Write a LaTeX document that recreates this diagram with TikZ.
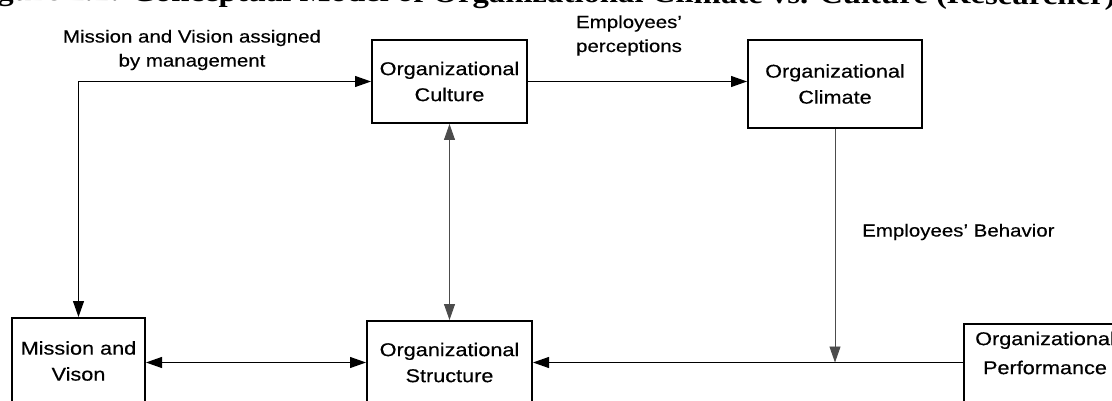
\documentclass[tikz,border=0pt]{standalone}
\usepackage{fontspec}
\setmainfont{Liberation Serif}
\newfontfamily\diagfont[FakeStretch=1.17,FakeBold=0.4]{Liberation Sans}
\newfontfamily\titlefont[FakeStretch=1.17]{Liberation Serif}
\usetikzlibrary{arrows.meta}

\begin{document}
\begin{tikzpicture}[x=1pt,y=-1pt,
  >={Triangle[length=16pt,width=11pt]},
  box/.style={draw, line width=2pt, inner sep=0pt, align=center,
    font=\diagfont\fontsize{18.5}{26}\selectfont},
  lbl/.style={inner sep=0pt, align=center,
    font=\diagfont\fontsize{17.5}{24}\selectfont},
  conn/.style={line width=1.1pt},
  faint/.style={line width=0.9pt, draw=black!70}
]
\useasboundingbox[fill=white] (0,0) rectangle (1112,401);
\begin{scope}
\clip (0,0) rectangle (1112,401);

% heading line, only its lower edge falls inside the frame (slightly tilted)
\node[inner sep=0pt, anchor=base west, rotate=-0.2,
  font=\titlefont\bfseries\fontsize{28}{30}\selectfont] (title) at (-32,0.5)
  {Figure 2.1: Conceptual Model of Organizational Climate vs. Culture (Researcher)};

% boxes
\node[box, minimum width=155pt, minimum height=83pt] (culture) at (449.5,81.5)
  {Organizational\\Culture};
\node[box, minimum width=174pt, minimum height=88pt] (climate) at (835,84)
  {Organizational\\Climate};
\node[box, minimum width=133pt, minimum height=86pt] (mission) at (78.5,361)
  {Mission and\\Vison};
\node[box, minimum width=165pt, minimum height=83pt] (structure) at (449.5,362.5)
  {Organizational\\Structure};
\node[box, minimum width=165pt, minimum height=100pt, anchor=north west] (perf) at (963,323) {};
\node[inner sep=0pt, align=center, font=\diagfont\fontsize{18.5}{29}\selectfont]
  (perftext) at (1045,353) {Organizational\\Performance};

% labels
\node[lbl] (mvlabel) at (192,50) {Mission and Vision assigned\\by management};
\node[lbl] (perclabel) at (629,35.5) {Employees’\\perceptions};
\node[lbl, anchor=west] (behlabel) at (862,232) {Employees’ Behavior};

% connectors
\draw[conn, <->] (mission.north) |- (culture.west);
\draw[conn, ->] (culture.east) -- (culture.east -| climate.west);
\draw[faint, <->] (culture.south) -- (structure.north);
\draw[conn, <->] (structure.west -| mission.east) -- (structure.west);
\draw[conn, ->] (perf.west |- structure.east) -- (structure.east);
\draw[faint, ->] (climate.south) -- (climate.south |- structure.east);
\end{scope}
\end{tikzpicture}
\end{document}
